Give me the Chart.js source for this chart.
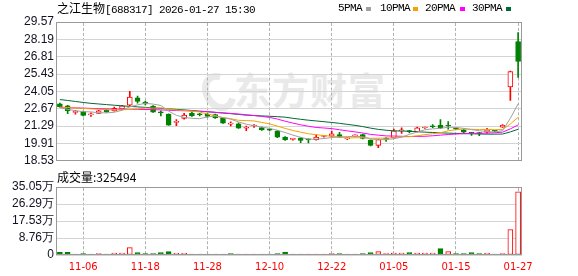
<!DOCTYPE html>
<html>
<head>
<meta charset="utf-8">
<script src="https://cdn.jsdelivr.net/npm/chart.js@4.4.1/dist/chart.umd.min.js"></script>
<style>
  body { margin: 0; background: #fff; }
  #wrap { position: relative; width: 578px; height: 276px; overflow: hidden; background: #fff; }
  canvas { position: absolute; left: 0; }
  .txt { position: absolute; white-space: nowrap; color: #000; }
  .lat { font: 11px "Liberation Mono", monospace; letter-spacing: -0.6px; }
  .sq { position: absolute; width: 5px; height: 4px; }
  .vline { position: absolute; width: 0; border-left: 1px dashed #b0b0b0; }
  #wm { position: absolute; left: 234px; top: 62px; font: bold 37px "Noto Sans CJK SC"; color: #e9e9e9; letter-spacing: 1px; }
  #swirl { position: absolute; left: 203px; top: 72px; width: 18px; height: 26px; border: 7px solid #e9e9e9;
    border-radius: 50%; border-right-color: transparent; transform: rotate(-30deg); }
</style>
</head>
<body>
<div id="wrap">
  <div id="swirl"></div>
  <div id="wm">东方财富</div>
  <canvas id="kline" width="578" height="170" style="top:0"></canvas>
  <canvas id="vol" width="578" height="106" style="top:170px"></canvas>
  <div class="txt" style="left:57px;top:0px;font:12px 'Noto Sans CJK SC';line-height:16px">之江生物<span class="lat">[688317] 2026-01-27 15:30</span></div>
  <div class="txt lat" style="left:338px;top:1px;line-height:14px">5PMA</div>
  <div class="sq" style="left:366px;top:7px;background:#a0a0a0"></div>
  <div class="txt lat" style="left:380px;top:1px;line-height:14px">10PMA</div>
  <div class="sq" style="left:413px;top:7px;background:#f5a300"></div>
  <div class="txt lat" style="left:425px;top:1px;line-height:14px">20PMA</div>
  <div class="sq" style="left:460px;top:7px;background:#ff00ff"></div>
  <div class="txt lat" style="left:472px;top:1px;line-height:14px">30PMA</div>
  <div class="sq" style="left:506px;top:7px;background:#006a33"></div>
  <div class="txt" style="left:57px;top:169px;font:12px 'Noto Sans CJK SC';line-height:16px">成交量:325494</div>
</div>
<script>
// trading days
const dates = ["11-03","11-04","11-05","11-06","11-07","11-10","11-11","11-12","11-13","11-14",
  "11-17","11-18","11-19","11-20","11-21","11-24","11-25","11-26","11-27","11-28",
  "12-01","12-02","12-03","12-04","12-05","12-08","12-09","12-10","12-11","12-12",
  "12-15","12-16","12-17","12-18","12-19","12-22","12-23","12-24","12-25","12-26",
  "12-29","12-30","12-31","01-05","01-06","01-07","01-08","01-09","01-12","01-13",
  "01-14","01-15","01-16","01-19","01-20","01-21","01-22","01-23","01-26","01-27"];
const tickDates = ["11-06","11-18","11-28","12-10","12-22","01-05","01-15","01-27"];

const opens = [23.06,22.91,22.38,22.45,22.18,22.30,22.58,22.50,22.66,22.96,
  23.54,23.21,22.88,22.37,22.24,21.58,21.90,22.32,22.21,22.24,
  22.20,21.94,21.45,21.48,21.12,21.30,21.18,21.00,20.87,20.41,
  20.24,20.34,20.22,20.21,20.46,20.49,20.62,20.28,20.51,20.62,
  20.16,19.76,20.33,20.37,20.91,20.87,20.85,21.14,21.26,21.36,
  21.32,21.07,21.00,20.76,20.71,20.80,20.90,21.21,24.41,28.01];
const highs = [23.12,22.95,22.55,22.48,22.35,22.55,22.62,22.80,22.95,24.05,
  23.67,23.28,22.92,22.50,22.26,21.80,22.30,22.40,22.30,22.28,
  22.25,21.97,21.62,21.55,21.30,21.42,21.22,21.05,20.95,20.45,
  20.32,20.38,20.28,20.60,20.55,20.90,20.80,20.38,20.60,20.66,
  20.20,20.26,20.38,21.05,21.15,20.95,21.22,21.22,21.42,21.80,
  21.65,21.12,21.05,20.80,20.80,21.12,20.95,21.42,25.67,28.72];
const lows = [22.80,22.27,22.24,22.09,22.05,22.27,22.38,22.47,22.62,22.91,
  23.11,22.98,22.38,22.10,21.34,21.33,21.85,22.05,22.10,22.00,
  21.90,21.50,21.30,21.10,20.92,21.18,20.94,20.90,20.36,20.16,
  20.18,19.98,19.95,20.18,20.40,20.45,20.38,20.22,20.45,20.28,
  19.72,19.58,20.08,20.33,20.70,20.75,20.82,21.10,21.16,21.08,
  21.05,21.00,20.76,20.55,20.52,20.72,20.82,21.18,23.34,25.17];
const closes = [22.84,22.50,22.41,22.14,22.21,22.50,22.42,22.70,22.91,23.59,
  23.26,23.06,22.40,22.34,21.36,21.61,22.17,22.09,22.19,22.05,
  21.94,21.53,21.47,21.13,21.14,21.32,20.98,20.97,20.41,20.21,
  20.26,20.16,20.20,20.41,20.48,20.67,20.41,20.30,20.53,20.31,
  19.76,20.21,20.25,20.92,20.93,20.85,21.15,21.16,21.24,21.15,
  21.30,21.05,20.80,20.74,20.69,21.00,20.88,21.36,25.63,26.44];
const volumes = [14000,14000,4000,7000,4000,7000,4000,10000,10000,38000,
  12000,7000,7000,12000,17000,9000,9000,4000,3000,4000,
  4000,4000,7000,4000,3000,4000,4000,3000,7000,15000,
  4000,4000,3000,3000,3000,7000,7000,4000,4000,7000,
  12000,17000,7000,10000,10000,12000,10000,10000,10000,33000,
  17000,7000,7000,12000,7000,10000,3000,7000,131000,325494];

const ma5 = [22.75,22.62,22.52,22.44,22.42,22.35,22.34,22.39,22.55,22.82,
  22.98,23.10,23.04,22.93,22.48,22.15,21.98,21.91,21.88,22.02,
  22.09,21.96,21.84,21.62,21.44,21.32,21.21,21.11,20.96,20.78,
  20.57,20.40,20.25,20.25,20.30,20.38,20.43,20.45,20.48,20.44,
  20.26,20.22,20.21,20.29,20.41,20.63,20.82,21.00,21.07,21.11,
  21.20,21.18,21.11,21.01,20.92,20.86,20.82,20.93,21.91,23.06];
const ma10 = [22.80,22.77,22.74,22.70,22.66,22.63,22.60,22.58,22.58,22.62,
  22.66,22.72,22.72,22.74,22.65,22.57,22.54,22.48,22.41,22.25,
  22.12,21.97,21.88,21.75,21.73,21.70,21.58,21.47,21.29,21.11,
  20.94,20.81,20.68,20.61,20.54,20.48,20.42,20.35,20.36,20.37,
  20.32,20.33,20.33,20.38,20.43,20.45,20.52,20.61,20.68,20.76,
  20.92,21.00,21.06,21.04,21.01,21.03,21.00,21.02,21.46,21.99];
const ma20 = [22.78,22.76,22.74,22.72,22.70,22.68,22.66,22.64,22.62,22.62,
  22.62,22.61,22.60,22.58,22.55,22.53,22.51,22.49,22.46,22.44,
  22.39,22.34,22.30,22.25,22.19,22.13,22.06,21.98,21.85,21.68,
  21.53,21.39,21.28,21.18,21.14,21.09,21.00,20.91,20.83,20.74,
  20.63,20.57,20.51,20.50,20.48,20.46,20.47,20.48,20.52,20.57,
  20.62,20.66,20.69,20.71,20.72,20.74,20.76,20.81,21.07,21.38];
const ma30 = [23.40,23.33,23.25,23.17,23.10,23.05,23.00,22.95,22.90,22.86,
  22.82,22.78,22.74,22.70,22.66,22.62,22.58,22.53,22.48,22.43,
  22.38,22.33,22.28,22.22,22.16,22.13,22.10,22.07,22.04,22.00,
  21.91,21.83,21.76,21.70,21.64,21.58,21.51,21.43,21.35,21.25,
  21.13,21.03,20.96,20.91,20.90,20.88,20.84,20.81,20.78,20.75,
  20.73,20.71,20.69,20.68,20.66,20.65,20.65,20.66,20.83,21.04];

const priceTicks = [18.53,19.91,21.29,22.67,24.05,25.43,26.81,28.19,29.57];
const volTicks = [0,87625,175250,262875,350500];
const volTickLabels = ["0","8.76万","17.53万","26.29万","35.05万"];

const RED = "#ff0000", GREEN = "#008000";
const up = closes.map((c, i) => c >= opens[i]);
const volUp = closes.map((c, i) => (i === 0 ? c >= opens[0] : c >= closes[i - 1]));

// grey frame round the plot area
const frame = {
  id: "frame",
  afterDraw(chart) {
    const a = chart.chartArea, ctx = chart.ctx;
    ctx.save();
    ctx.lineWidth = 1;
    ctx.strokeStyle = "#999";
    ctx.strokeRect(Math.round(a.left) + 0.5, Math.round(a.top) + 0.5,
      Math.round(a.right - a.left) - 1, Math.round(a.bottom - a.top) - 1);
    ctx.restore();
  },
};

// dashed date lines, placed under the canvas from the x scale
function addDateLines(chart, canvasTop) {
  const a = chart.chartArea, xs = chart.scales.x;
  const wrap = document.getElementById("wrap");
  const first = document.getElementById("kline");
  tickDates.forEach((d) => {
    const el = document.createElement("div");
    el.className = "vline";
    el.style.left = Math.floor(xs.getPixelForValue(dates.indexOf(d))) + "px";
    el.style.top = canvasTop + Math.round(a.top) + 1 + "px";
    el.style.height = Math.round(a.bottom - a.top) - 2 + "px";
    wrap.insertBefore(el, first);
  });
}

const axisFont = { family: "Liberation Sans", size: 12 };

function xScale(showLabels) {
  return {
    type: "category",
    offset: true,
    grid: { display: false, drawTicks: false },
    border: { display: false },
    ticks: {
      display: showLabels,
      autoSkip: false,
      maxRotation: 0,
      padding: 6,
      color: RED,
      font: { family: "DejaVu Sans", size: 10 },
      callback: (v, i) => (tickDates.includes(dates[i]) ? dates[i] : ""),
    },
    afterFit: (s) => { s.height = showLabels ? 21 : 0; },
  };
}

function lineDs(label, data, color) {
  return { type: "line", label, data, borderColor: color, borderWidth: 1,
    pointRadius: 0, tension: 0, fill: false, order: 0 };
}

const kChart = new Chart(document.getElementById("kline"), {
  type: "bar",
  data: {
    labels: dates,
    datasets: [
      lineDs("5PMA", ma5, "#a0a0a0"),
      lineDs("10PMA", ma10, "#f5a300"),
      lineDs("20PMA", ma20, "#ff00ff"),
      lineDs("30PMA", ma30, "#006a33"),
      {
        label: "body",
        data: opens.map((o, i) => [o, closes[i]]),
        backgroundColor: up.map((u) => (u ? "#ffffff" : GREEN)),
        borderColor: up.map((u) => (u ? RED : GREEN)),
        borderWidth: 1,
        borderSkipped: false,
        barThickness: 5,
        minBarLength: 1,
        grouped: false,
        order: 1,
      },
      {
        label: "wick",
        data: lows.map((l, i) => [l, highs[i]]),
        backgroundColor: up.map((u) => (u ? RED : GREEN)),
        borderWidth: 0,
        barThickness: 1,
        grouped: false,
        order: 2,
      },
    ],
  },
  options: {
    responsive: false,
    animation: false,
    devicePixelRatio: 1,
    layout: { padding: { top: 22, right: 56, bottom: 4, left: 0 } },
    plugins: { legend: { display: false }, tooltip: { enabled: false } },
    scales: {
      x: xScale(false),
      y: {
        min: 18.53,
        max: 29.57,
        afterBuildTicks: (s) => { s.ticks = priceTicks.map((v) => ({ value: v })); },
        afterFit: (s) => { s.width = 56; },
        grid: { color: "#d4d4d4", drawTicks: false },
        border: { display: false },
        ticks: { autoSkip: false, padding: 2, color: "#111122", font: axisFont, callback: (v) => v.toFixed(2) },
      },
    },
  },
  plugins: [frame],
});

const vChart = new Chart(document.getElementById("vol"), {
  type: "bar",
  data: {
    labels: dates,
    datasets: [
      {
        label: "成交量",
        data: volumes,
        backgroundColor: volUp.map((u) => (u ? "#ffffff" : GREEN)),
        borderColor: volUp.map((u) => (u ? RED : GREEN)),
        borderWidth: 1,
        borderSkipped: false,
        barThickness: 5,
        minBarLength: 1,
      },
    ],
  },
  options: {
    responsive: false,
    animation: false,
    devicePixelRatio: 1,
    layout: { padding: { top: 17, right: 56, bottom: 0, left: 0 } },
    plugins: { legend: { display: false }, tooltip: { enabled: false } },
    scales: {
      x: xScale(true),
      y: {
        min: 0,
        max: 350500,
        afterBuildTicks: (s) => { s.ticks = volTicks.map((v) => ({ value: v })); },
        afterFit: (s) => { s.width = 56; },
        grid: { color: "#d4d4d4", drawTicks: false },
        border: { display: false },
        ticks: {
          autoSkip: false,
          padding: 2,
          color: "#111122",
          font: axisFont,
          callback: (v, i) => volTickLabels[i],
        },
      },
    },
  },
  plugins: [frame],
});

addDateLines(kChart, 0);
addDateLines(vChart, 170);
</script>
</body>
</html>
